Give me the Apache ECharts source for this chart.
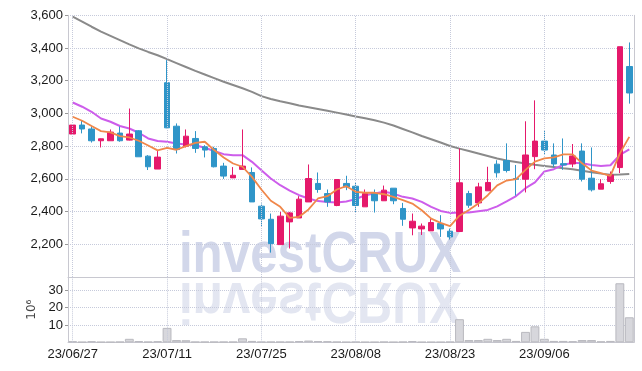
<!DOCTYPE html>
<html><head><meta charset="utf-8">
<script src="https://cdn.jsdelivr.net/npm/echarts@6/dist/echarts.min.js"></script>
<style>html,body{margin:0;padding:0;background:#fff}#c{width:642px;height:371px}</style>
</head><body><div id="c"></div>
<script>
const dates = ['23/06/27','23/06/28','23/06/29','23/06/30','23/07/03','23/07/04','23/07/05','23/07/06','23/07/07','23/07/10',
'23/07/11','23/07/12','23/07/13','23/07/14','23/07/17','23/07/18','23/07/19','23/07/20','23/07/21','23/07/24',
'23/07/25','23/07/26','23/07/27','23/07/28','23/07/31','23/08/01','23/08/02','23/08/03','23/08/04','23/08/07',
'23/08/08','23/08/09','23/08/10','23/08/11','23/08/14','23/08/16','23/08/17','23/08/18','23/08/21','23/08/22',
'23/08/23','23/08/24','23/08/25','23/08/28','23/08/29','23/08/30','23/08/31','23/09/01','23/09/04','23/09/05',
'23/09/06','23/09/07','23/09/08','23/09/11','23/09/12','23/09/13','23/09/14','23/09/15','23/09/18','23/09/19'];
const labelDates = ['23/06/27','23/07/11','23/07/25','23/08/08','23/08/23','23/09/06'];
const openP  = [2874,2929,2905,2833,2833,2880,2837,2894,2739,2660, 3188,2922,2800,2847,2796,2786,2678,2606,2658,2639,
                2433,2353,2198,2337,2361,2459,2572,2510,2437,2572, 2555,2429,2510,2466,2543,2419,2300,2294,2282,2327,
                2280,2278,2510,2453,2527,2690,2712,2602,2598,2736, 2831,2746,2693,2691,2770,2604,2537,2584,2669,3287];
const closeP = [2929,2905,2833,2845,2886,2833,2874,2735,2674,2733, 2912,2779,2861,2786,2776,2674,2617,2622,2678,2459,
                2355,2204,2372,2392,2476,2602,2535,2459,2596,2551, 2437,2510,2466,2531,2466,2353,2341,2311,2333,2294,
                2245,2576,2439,2551,2578,2637,2651,2598,2746,2831, 2776,2691,2685,2740,2598,2533,2570,2624,3408,3125];
const lowP   = [2868,2878,2822,2792,2833,2827,2835,2735,2654,2660, 2910,2755,2792,2759,2731,2670,2600,2606,2658,2459,
                2311,2149,2198,2174,2361,2459,2515,2429,2433,2531, 2396,2429,2394,2466,2445,2313,2255,2257,2282,2245,
                2229,2278,2423,2429,2527,2608,2639,2497,2517,2659, 2746,2671,2655,2671,2584,2523,2537,2570,2635,3060];
const highP  = [2935,2959,2923,2847,2902,2920,3030,2898,2745,2776, 3326,2939,2902,2892,2806,2796,2698,2672,2902,2670,
                2449,2388,2398,2398,2494,2688,2639,2535,2596,2619, 2580,2535,2535,2559,2543,2453,2388,2327,2357,2378,
                2296,2786,2527,2576,2674,2714,2817,2685,2952,3080, 2898,2817,2847,2813,2817,2792,2598,2645,3408,3434];
const volume = [0.6,0.2,0.6,0.2,0.2,0.3,2.0,0.7,0.3,0.6, 8.3,1.3,1.2,0.3,0.3,0.3,0.3,0.3,2.3,0.8,
                0.3,0.3,0.3,0.3,0.7,1.0,0.7,0.6,0.3,0.2, 0.3,0.2,0.2,0.3,0.2,0.3,0.7,0.2,0.2,0.2,
                0.3,13.3,1.3,1.3,2.0,1.3,2.0,0.8,6.0,9.2, 2.0,0.8,0.8,0.6,1.3,1.3,0.5,0.8,34.0,14.4];
const ma5   = [2980,2955,2923,2892,2884,2861,2853,2833,2804,2774, 2790,2778,2800,2820,2827,2776,2731,2694,2674,2612,
               2535,2466,2429,2361,2368,2413,2480,2494,2535,2555, 2521,2515,2515,2506,2490,2470,2449,2408,2357,2331,
               2311,2375,2410,2450,2500,2560,2590,2598,2655,2705, 2725,2732,2750,2750,2695,2651,2635,2618,2756,2857];
const ma20  = [3067,3041,3010,2969,2949,2923,2908,2882,2847,2831, 2827,2816,2810,2806,2790,2770,2751,2745,2745,2704,
               2653,2602,2561,2528,2500,2480,2464,2458,2455,2462, 2476,2500,2510,2521,2510,2490,2480,2459,2429,2404,
               2392,2394,2394,2402,2410,2432,2462,2495,2543,2578, 2645,2659,2685,2699,2695,2685,2679,2683,2746,2780];
const ma120 = [3592,3562,3530,3500,3474,3448,3422,3398,3376,3356, 3332,3308,3284,3260,3238,3216,3194,3174,3154,3132,
               3106,3088,3074,3062,3049,3038,3027,3016,3005,2993, 2981,2970,2958,2944,2926,2905,2884,2862,2842,2822,
               2801,2785,2770,2755,2740,2725,2712,2703,2694,2686, 2679,2672,2665,2659,2650,2641,2632,2625,2627,2630];
const priceTicks = {min: 2000, max: 3600, interval: 200};
const volTicks = {min: 0, max: 37.6, interval: 10};

const candles = dates.map((d, i) => [openP[i], closeP[i], lowP[i], highP[i]]);
const UP = '#e5196b', DOWN = '#2f95c8';
const gridC = '#c6cadb';
const axC = '#c8c8d0';
const lblFont = {fontFamily: 'Liberation Sans, Arial, sans-serif', color: '#1a1a1a'};
const vMark = () => ({
  silent: true, symbol: ['none','none'], animation: false,
  label: {show: false},
  lineStyle: {type: 'dotted', color: gridC, width: 1},
  data: labelDates.map(x => ({xAxis: x}))
});
const fmt = v => String(v).replace(/\B(?=(\d{3})+(?!\d))/g, ',');
const wmFont = 'bold 58px "Liberation Sans", Arial, sans-serif';

const chart = echarts.init(document.getElementById('c'), null, {renderer: 'canvas'});
chart.setOption({
  animation: false,
  backgroundColor: '#fff',
  graphic: [
    {type: 'text', x: 320, y: 256, z: -10, scaleX: 0.85, silent: true,
     style: {text: 'investCRUX', font: wmFont, fill: '#d2d7ea', align: 'center', verticalAlign: 'middle'}},
    {type: 'text', x: 320, y: 299, z: -10, scaleX: 0.85, scaleY: -1, silent: true,
     style: {text: 'investCRUX', font: wmFont, fill: '#e3e6f1', align: 'center', verticalAlign: 'middle'}}
  ],
  grid: [
    {left: 68, right: 8, top: 15.3, height: 261.7, outerBoundsMode: 'none'},
    {left: 68, right: 8, top: 277, height: 65.3, outerBoundsMode: 'none'}
  ],
  xAxis: [
    {type: 'category', gridIndex: 0, data: dates, boundaryGap: true,
     axisLine: {show: true, lineStyle: {color: axC}}, axisTick: {show: false},
     axisLabel: {show: false}, splitLine: {show: false}},
    {type: 'category', gridIndex: 1, data: dates, boundaryGap: true,
     axisLine: {show: true, lineStyle: {color: axC}}, axisTick: {show: false},
     axisLabel: Object.assign({fontSize: 13, margin: 6,
       interval: (i, v) => labelDates.indexOf(v) >= 0}, lblFont),
     splitLine: {show: false}}
  ],
  yAxis: [
    {type: 'value', gridIndex: 0, min: priceTicks.min, max: priceTicks.max, interval: priceTicks.interval,
     axisLine: {show: true, lineStyle: {color: axC}},
     axisTick: {show: true, length: 3, lineStyle: {color: '#999'}},
     axisLabel: Object.assign({fontSize: 13, margin: 5, formatter: fmt, showMinLabel: false}, lblFont),
     splitLine: {show: true, lineStyle: {type: 'dotted', color: gridC}}},
    {type: 'value', gridIndex: 1, min: volTicks.min, max: volTicks.max, interval: volTicks.interval,
     name: '10\u2076', nameLocation: 'middle', nameRotate: 90, nameGap: 27,
     nameTextStyle: {fontSize: 12, color: '#444', fontFamily: 'DejaVu Sans, sans-serif'},
     axisLine: {show: true, lineStyle: {color: axC}},
     axisTick: {show: true, length: 3, lineStyle: {color: '#999'}},
     axisLabel: Object.assign({fontSize: 13, margin: 5, showMinLabel: false, showMaxLabel: false}, lblFont),
     splitLine: {show: true, lineStyle: {type: 'dotted', color: gridC}}},
    {type: 'value', gridIndex: 0, position: 'right', min: priceTicks.min, max: priceTicks.max,
     axisLine: {show: true, lineStyle: {color: axC}}, axisTick: {show: false}, axisLabel: {show: false}, splitLine: {show: false}},
    {type: 'value', gridIndex: 1, position: 'right', min: volTicks.min, max: volTicks.max,
     axisLine: {show: true, lineStyle: {color: axC}}, axisTick: {show: false}, axisLabel: {show: false}, splitLine: {show: false}}
  ],
  series: [
    {type: 'line', name: 'MA120', xAxisIndex: 0, yAxisIndex: 0, data: ma120, symbol: 'none',
     lineStyle: {color: '#8a8a8a', width: 2}, z: 3},
    {type: 'line', name: 'MA20', xAxisIndex: 0, yAxisIndex: 0, data: ma20, symbol: 'none',
     lineStyle: {color: '#cd5deb', width: 2}, z: 3},
    {type: 'candlestick', xAxisIndex: 0, yAxisIndex: 0, data: candles, barWidth: '64%', z: 4,
     itemStyle: {color: UP, color0: DOWN, borderColor: UP, borderColor0: DOWN, borderWidth: 1},
     markLine: vMark()},
    {type: 'line', name: 'MA5', xAxisIndex: 0, yAxisIndex: 0, data: ma5, symbol: 'none',
     lineStyle: {color: '#f0874a', width: 1.8}, z: 5},
    {type: 'bar', xAxisIndex: 1, yAxisIndex: 1, data: volume, barCategoryGap: '6%',
     itemStyle: {color: '#d7d7dc', borderColor: '#b9b9bf', borderWidth: 1},
     markLine: vMark()}
  ]
});
</script>
</body></html>
